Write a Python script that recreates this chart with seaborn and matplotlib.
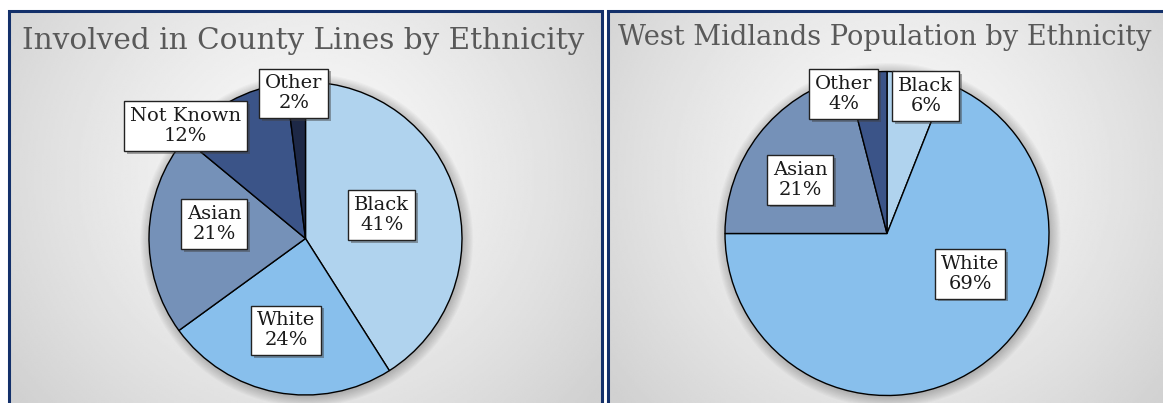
import numpy as np
import matplotlib
matplotlib.use("Agg")
import matplotlib.pyplot as plt
import matplotlib.patheffects as pe
from matplotlib.patches import Rectangle, Circle
import seaborn as sns

# ---------------- data ----------------
left_title = "Involved in County Lines by Ethnicity"
left_categories = ["Black", "White", "Asian", "Not Known", "Other"]
left_values = [41, 24, 21, 12, 2]

right_title = "West Midlands Population by Ethnicity"
right_categories = ["Black", "White", "Asian", "Other"]
right_values = [6, 69, 21, 4]

# ---------------- style ----------------
sns.set_theme(style="white")
plt.rcParams['font.family'] = ['DejaVu Serif', 'DejaVu Sans']

left_colors = ["#B0D3EE", "#88BFEC", "#7591B8", "#3B5488", "#1D2846"]
right_colors = ["#B0D3EE", "#88BFEC", "#7591B8", "#3B5488"]

# label placement: (radial fraction, angular nudge in degrees) per slice
left_label_place = [(0.51, 1), (0.60, -1), (0.59, -7), (1.05, 18), (0.93, 1)]
right_label_place = [(0.88, -5), (0.57, 30), (0.63, 6), (0.90, 10)]

W, H = 1163, 403
fig = plt.figure(figsize=(W / 100, H / 100), dpi=100)
fig.patch.set_facecolor("white")

NAVY = "#13306A"


def panel(x0, x1, y_top):
    """Gradient panel background with navy border (pixel coords, y from top)."""
    ax = fig.add_axes([x0 / W, 0, (x1 - x0) / W, (H - y_top) / H])
    ax.set_axis_off()
    ny, nx = 200, 300
    yy, xx = np.mgrid[0:ny, 0:nx]
    cx, cy = nx * 0.5, ny * 0.42
    d = np.sqrt(((xx - cx) / nx) ** 2 + ((yy - cy) / ny * 0.7) ** 2)
    d = np.clip(d / 0.62, 0, 1)
    v = 0.98 - 0.16 * d ** 1.3
    ax.imshow(v, cmap="gray", vmin=0, vmax=1, aspect="auto",
              extent=[0, 1, 0, 1], origin="upper", interpolation="bilinear")
    ax.set_xlim(0, 1)
    ax.set_ylim(0, 1)
    fig.patches.append(Rectangle((x0 / W, -0.05), (x1 - x0) / W, (H - y_top) / H + 0.05,
                                 transform=fig.transFigure, fill=False,
                                 edgecolor=NAVY, linewidth=2.2, zorder=5))


panel(8.5, 601.5, 10.5)
panel(607.5, 1175, 10.5)


def fit_title(text, cx, baseline, width):
    t = fig.text(cx / W, 1 - baseline / H, text, ha="center", va="baseline",
                 fontsize=22, color="#595959", zorder=6)
    fig.canvas.draw()
    w = t.get_window_extent().width
    t.set_fontsize(22 * width / w)
    return t


fit_title(left_title, 303.5, 49, 563)
fit_title(right_title, 885, 45, 534)


def draw_pie(cx, cy, r, values, cats, colors, places):
    ax = fig.add_axes([(cx - r) / W, (H - cy - r) / H, 2 * r / W, 2 * r / H])
    ax.set_axis_off()
    # soft shadow behind the pie
    for k in range(10):
        ax.add_patch(Circle((0.008, -0.01), 1.0 + 0.007 * k, facecolor="#000000",
                            edgecolor="none", alpha=0.022, zorder=0, clip_on=False))
    wedges, _ = ax.pie(values, colors=colors, startangle=90, counterclock=False,
                       radius=1.0, center=(0, 0),
                       wedgeprops=dict(edgecolor="black", linewidth=1.0, zorder=2))
    ax.set_xlim(-1, 1)
    ax.set_ylim(-1, 1)
    total = float(sum(values))
    for w, cat, val, (dist, nudge) in zip(wedges, cats, values, places):
        mid = np.deg2rad((w.theta1 + w.theta2) / 2 + nudge)
        x, y = dist * np.cos(mid), dist * np.sin(mid)
        t = ax.text(x, y, f"{cat}\n{round(100 * val / total)}%", ha="center", va="center",
                    fontsize=14, color="#1a1a1a", linespacing=1.15, clip_on=False, zorder=10,
                    bbox=dict(boxstyle="square,pad=0.3", facecolor="white",
                              edgecolor="#222222", linewidth=1.0))
        t.get_bbox_patch().set_path_effects([
            pe.SimplePatchShadow(offset=(2, -2), shadow_rgbFace="#404040", alpha=0.45),
            pe.Normal()])
    return ax


draw_pie(305.5, 238.5, 156.5, left_values, left_categories, left_colors, left_label_place)
draw_pie(887, 233.5, 162, right_values, right_categories, right_colors, right_label_place)

fig.savefig("out.png", dpi=100, facecolor="white")
